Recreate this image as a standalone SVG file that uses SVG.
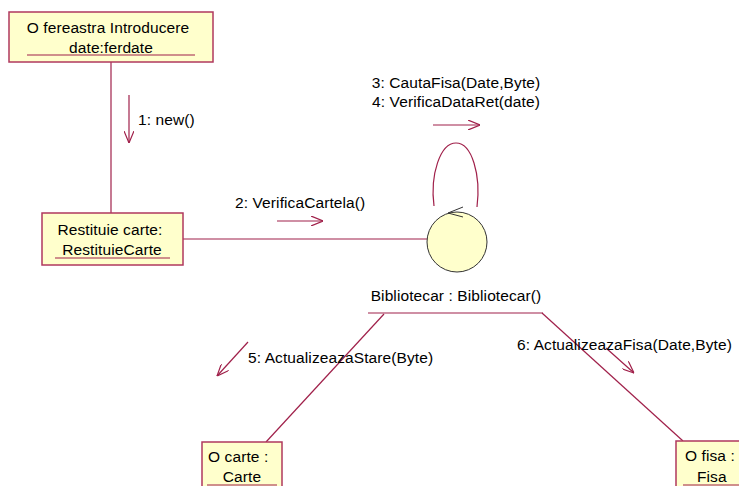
<svg xmlns="http://www.w3.org/2000/svg" width="739" height="486" viewBox="0 0 739 486">
<style>
.box{fill:#ffffcc;stroke:#b0385e;stroke-width:1.5}
.ln{stroke:#a0204a;stroke-width:1.2;fill:none}
.ul{stroke:#a0204a;stroke-width:1.2}
text{font-family:"Liberation Sans",Arial,sans-serif;font-size:15.5px;fill:#000;letter-spacing:0.1px}
.m{text-anchor:middle}
</style>
<defs>
<marker id="ah" viewBox="0 0 12 10" refX="12" refY="5" markerWidth="12" markerHeight="10" markerUnits="userSpaceOnUse" orient="auto">
<path d="M0,0 L12,5 L0,10" fill="none" stroke="#a0204a" stroke-width="1.2"/>
</marker>
</defs>
<rect width="739" height="486" fill="#fff"/>
<g id="connectors">
<line class="ln" x1="111" y1="62" x2="111" y2="213"/>
<line class="ln" x1="183" y1="239" x2="427" y2="239"/>
<path class="ln" d="M434,206 C430,175 440,143 456,143 C472,143 481,175 477,207"/>
<line class="ln" x1="384" y1="314" x2="266" y2="442"/>
<line class="ln" x1="542" y1="313" x2="683" y2="441"/>
<line class="ln" x1="368" y1="313" x2="543" y2="313"/>
</g>
<g id="msg1">
<line class="ln" x1="129" y1="95" x2="129" y2="143" marker-end="url(#ah)"/>
<text x="138" y="125">1: new()</text>
</g>
<g id="msg2">
<line class="ln" x1="277" y1="221" x2="323" y2="221" marker-end="url(#ah)"/>
<text x="235" y="208">2: VerificaCartela()</text>
</g>
<g id="msg34">
<line class="ln" x1="433" y1="125" x2="480" y2="125" marker-end="url(#ah)"/>
<text class="m" x="456" y="88">3: CautaFisa(Date,Byte)</text>
<text class="m" x="456" y="107">4: VerificaDataRet(date)</text>
</g>
<g id="msg5">
<line class="ln" x1="248" y1="342" x2="217" y2="376" marker-end="url(#ah)"/>
<text x="248" y="363">5: ActualizeazaStare(Byte)</text>
</g>
<g id="msg6">
<line class="ln" x1="606" y1="348" x2="634" y2="373" marker-end="url(#ah)"/>
<text x="517" y="350">6: ActualizeazaFisa(Date,Byte)</text>
</g>
<g id="fereastra">
<rect class="box" x="9" y="12" width="204" height="50"/>
<text class="m" x="108" y="33">O fereastra Introducere</text>
<text class="m" x="111" y="53">date:ferdate</text>
<line class="ul" x1="27" y1="55" x2="195" y2="55"/>
</g>
<g id="restituie">
<rect class="box" x="42" y="213" width="141" height="52"/>
<text class="m" x="110" y="235">Restituie carte:</text>
<text class="m" x="112" y="255">RestituieCarte</text>
<line class="ul" x1="55" y1="258" x2="170" y2="258"/>
</g>
<g id="bibliotecar">
<circle cx="457" cy="242" r="30" fill="#ffffcc" stroke="#333" stroke-width="1"/>
<path d="M463,207 L448,213 L463,217" fill="none" stroke="#333" stroke-width="1"/>
<text class="m" x="456" y="301">Bibliotecar : Bibliotecar()</text>
</g>
<g id="carte">
<rect class="box" x="202" y="442" width="80" height="50"/>
<text x="208" y="462">O carte :</text>
<text class="m" x="242" y="482">Carte</text>
<line class="ul" x1="207" y1="485" x2="277" y2="485"/>
</g>
<g id="fisa">
<rect class="box" x="676" y="441" width="70" height="50"/>
<text x="685" y="461">O fisa :</text>
<text x="697" y="482">Fisa</text>
<line class="ul" x1="683" y1="485" x2="739" y2="485"/>
</g>
</svg>
